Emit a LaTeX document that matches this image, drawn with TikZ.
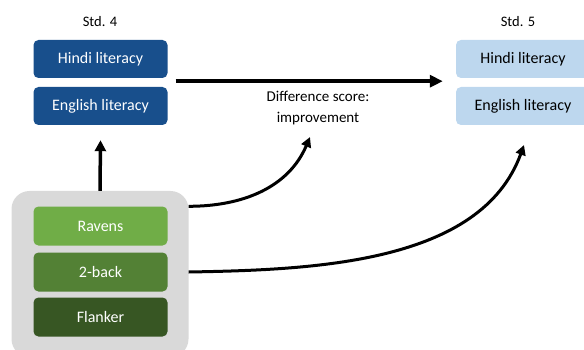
\documentclass[tikz,border=0pt]{standalone}
\usepackage{fontspec}
\setmainfont{Carlito}
\usetikzlibrary{arrows.meta}

\definecolor{darkblue}{RGB}{24,79,140}
\definecolor{paleblue}{RGB}{189,215,238}
\definecolor{panelgrey}{RGB}{217,217,217}
\definecolor{greenA}{RGB}{112,173,71}
\definecolor{greenB}{RGB}{83,129,53}
\definecolor{greenC}{RGB}{55,86,35}

\begin{document}
\begin{tikzpicture}[x=1pt,y=1pt,
    grade/.style={font=\fontsize{14.5}{16}\selectfont},
    box/.style={rounded corners=5pt, minimum width=134pt, minimum height=38pt,
      inner sep=0pt, text height=10pt, text depth=0pt, font=\fontsize{16}{18}\selectfont},
    std4box/.style={box, fill=darkblue, text=white},
    std5box/.style={box, fill=paleblue, text=black},
    taskbox/.style={box, minimum height=39pt, text=white},
    panel/.style={rounded corners=18pt, fill=panelgrey, minimum width=177pt,
      minimum height=166pt, inner sep=0pt},
    bigarrow/.style={line width=4pt, -{Triangle[length=13pt,width=12pt]}},
    curvearrow/.style={line width=3pt, -{Triangle[length=10pt,width=10pt]}}]
  \useasboundingbox (0,0) rectangle (584,-350);

  % Std. 4 and Std. 5 scores
  \node[grade] (std4) at (100,-22) {Std. 4};
  \node[std4box] (hindi4) at (100.5,-59) {Hindi literacy};
  \node[std4box] (eng4) at (100.5,-106) {English literacy};
  \node[grade] (std5) at (518,-22) {Std. 5};
  \node[std5box] (hindi5) at (523,-59) {Hindi literacy};
  \node[std5box] (eng5) at (523,-106) {English literacy};

  \node[align=center, font=\fontsize{15}{21}\selectfont] (diff) at (318,-108)
    {Difference score:\\improvement};

  % cognitive tasks
  \node[panel] (tasks) at (100,-274) {};
  \node[taskbox, fill=greenA] (ravens) at (100.5,-226) {Ravens};
  \node[taskbox, fill=greenB] (twoback) at (100.5,-272) {2-back};
  \node[taskbox, fill=greenC] (flanker) at (100.5,-317) {Flanker};

  \coordinate (tipdiff) at (310,-137);
  \coordinate (tipstd5) at (524,-145);

  \draw[bigarrow] ([shift={(8,-3)}]hindi4.south east) -- ([shift={(-13,-3)}]hindi5.south west);
  \draw[line width=3.5pt, -{Triangle[length=11pt,width=11pt]}] (tasks.north) -- ([yshift=-15pt]eng4.south);
  \draw[curvearrow] (tasks.east |- ravens.north) to[out=0, in=247] (tipdiff);
  \draw[curvearrow] (tasks.east |- twoback) to[out=1, in=250, looseness=0.9] (tipstd5);
\end{tikzpicture}
\end{document}
